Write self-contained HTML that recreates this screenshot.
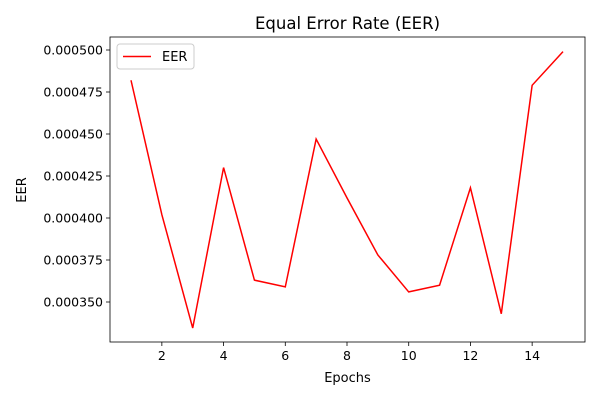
<!DOCTYPE html>
<html><head><meta charset="utf-8"><style>
body{margin:0;background:#fff;}
svg text{font-family:"DejaVu Sans","Liberation Sans",sans-serif;fill:#000;}
</style></head><body>
<svg id="chart" width="600" height="400" xmlns="http://www.w3.org/2000/svg">
<rect width="600" height="400" fill="#fff"/>
<text x="347.5" y="29" font-size="16.5" text-anchor="middle">Equal Error Rate (EER)</text>
<g id="axes"></g>
<text x="347.5" y="382" font-size="13" text-anchor="middle">Epochs</text>
<text x="26" y="190" font-size="13" text-anchor="middle" transform="rotate(-90 26 190)">EER</text>
<g>
<rect x="117" y="44" width="77" height="25" rx="3" fill="#fff" stroke="#ccc"/>
<line x1="123" y1="56.5" x2="151" y2="56.5" stroke="red" stroke-width="1.5"/>
<text x="162" y="61" font-size="13">EER</text>
</g>
</svg>
<script>
const epochs=[1,2,3,4,5,6,7,8,9,10,11,12,13,14,15];
const eer=[0.000482,0.000402,0.0003345,0.000430,0.000363,0.000359,0.000447,0.000412,0.000378,0.000356,0.000360,0.000418,0.000343,0.000479,0.000499];
const xTicks=[2,4,6,8,10,12,14];
const yTicks=[0.000350,0.000375,0.000400,0.000425,0.000450,0.000475,0.000500];
const L=110,R=585,T=37,B=342;
const xs=v=>131+(v-1)*(563-131)/14;
const ys=v=>302-(v-0.00035)*(252/0.00015);
const NS="http://www.w3.org/2000/svg";
const g=document.getElementById('axes');
function mk(t,a){const e=document.createElementNS(NS,t);for(const k in a)e.setAttribute(k,a[k]);g.appendChild(e);return e;}
xTicks.forEach(v=>{
  const l=mk('line',{x1:xs(v),x2:xs(v),y1:B,y2:B+4,stroke:'#000','stroke-width':0.8});
  
  
  const t=mk('text',{x:xs(v),y:B+18,'font-size':12.5,'text-anchor':'middle'});t.textContent=v;
  
  
});
yTicks.forEach(v=>{
  const l=mk('line',{x1:L-4,x2:L,y1:ys(v),y2:ys(v),stroke:'#000','stroke-width':0.8});
  
  
  const t=mk('text',{x:L-7,y:ys(v)+4.5,'font-size':12.5,'text-anchor':'end'});t.textContent=v.toFixed(6);
  
  
});
const p=mk('polyline',{points:epochs.map((e,i)=>xs(e)+','+ys(eer[i])).join(' '),fill:'none',stroke:'red','stroke-width':1.5});


const f=mk('rect',{x:L,y:T,width:R-L,height:B-T,fill:'none',stroke:'#000','stroke-width':0.8});


</script>
</body></html>
